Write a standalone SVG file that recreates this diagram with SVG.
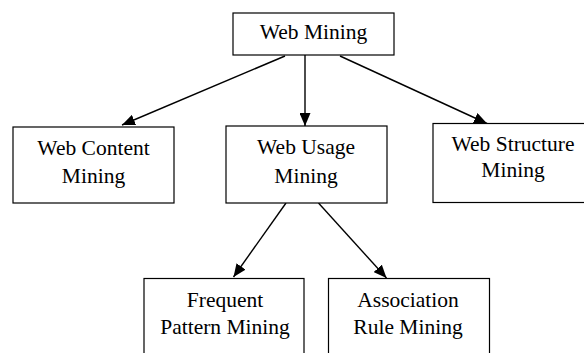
<svg xmlns="http://www.w3.org/2000/svg" width="584" height="353" viewBox="0 0 584 353">
<style>
.box{fill:#fff;stroke:#000;stroke-width:1.2}
.t{font-family:"Liberation Serif","Times New Roman",serif;font-size:21.5px;fill:#000;text-anchor:middle}
.c{stroke:#000;stroke-width:1.4;fill:none}
</style>
<defs>
<marker id="ah" markerUnits="userSpaceOnUse" markerWidth="13" markerHeight="11" refX="13" refY="5.5" orient="auto">
<path d="M0,0 L13,5.5 L0,11 z" fill="#000"/>
</marker>
</defs>
<rect width="584" height="353" fill="#fff"/>
<g id="connectors">
<line class="c" x1="285" y1="56" x2="122" y2="125" marker-end="url(#ah)"/>
<line class="c" x1="305" y1="55" x2="305" y2="126" marker-end="url(#ah)"/>
<line class="c" x1="340" y1="56" x2="487" y2="123.5" marker-end="url(#ah)"/>
<line class="c" x1="286" y1="203" x2="233.5" y2="277" marker-end="url(#ah)"/>
<line class="c" x1="318.5" y1="203" x2="386.5" y2="278" marker-end="url(#ah)"/>
</g>
<g id="web-mining">
<rect class="box" x="233" y="13" width="161" height="42"/>
<text class="t" x="313.5" y="38.5">Web Mining</text>
</g>
<g id="web-content-mining">
<rect class="box" x="13" y="127" width="161" height="76"/>
<text class="t" x="93.5" y="155">Web Content</text>
<text class="t" x="93.5" y="183">Mining</text>
</g>
<g id="web-usage-mining">
<rect class="box" x="226" y="126" width="161" height="77"/>
<text class="t" x="306" y="154">Web Usage</text>
<text class="t" x="306" y="183">Mining</text>
</g>
<g id="web-structure-mining">
<rect class="box" x="433" y="123.5" width="160" height="79"/>
<text class="t" x="513" y="151">Web Structure</text>
<text class="t" x="513" y="177">Mining</text>
</g>
<g id="frequent-pattern-mining">
<rect class="box" x="144" y="278.5" width="160" height="90"/>
<text class="t" x="225" y="306.5">Frequent</text>
<text class="t" x="225" y="334">Pattern Mining</text>
</g>
<g id="association-rule-mining">
<rect class="box" x="328.5" y="278.5" width="161" height="90"/>
<text class="t" x="408" y="306.5">Association</text>
<text class="t" x="408" y="334">Rule Mining</text>
</g>
</svg>
